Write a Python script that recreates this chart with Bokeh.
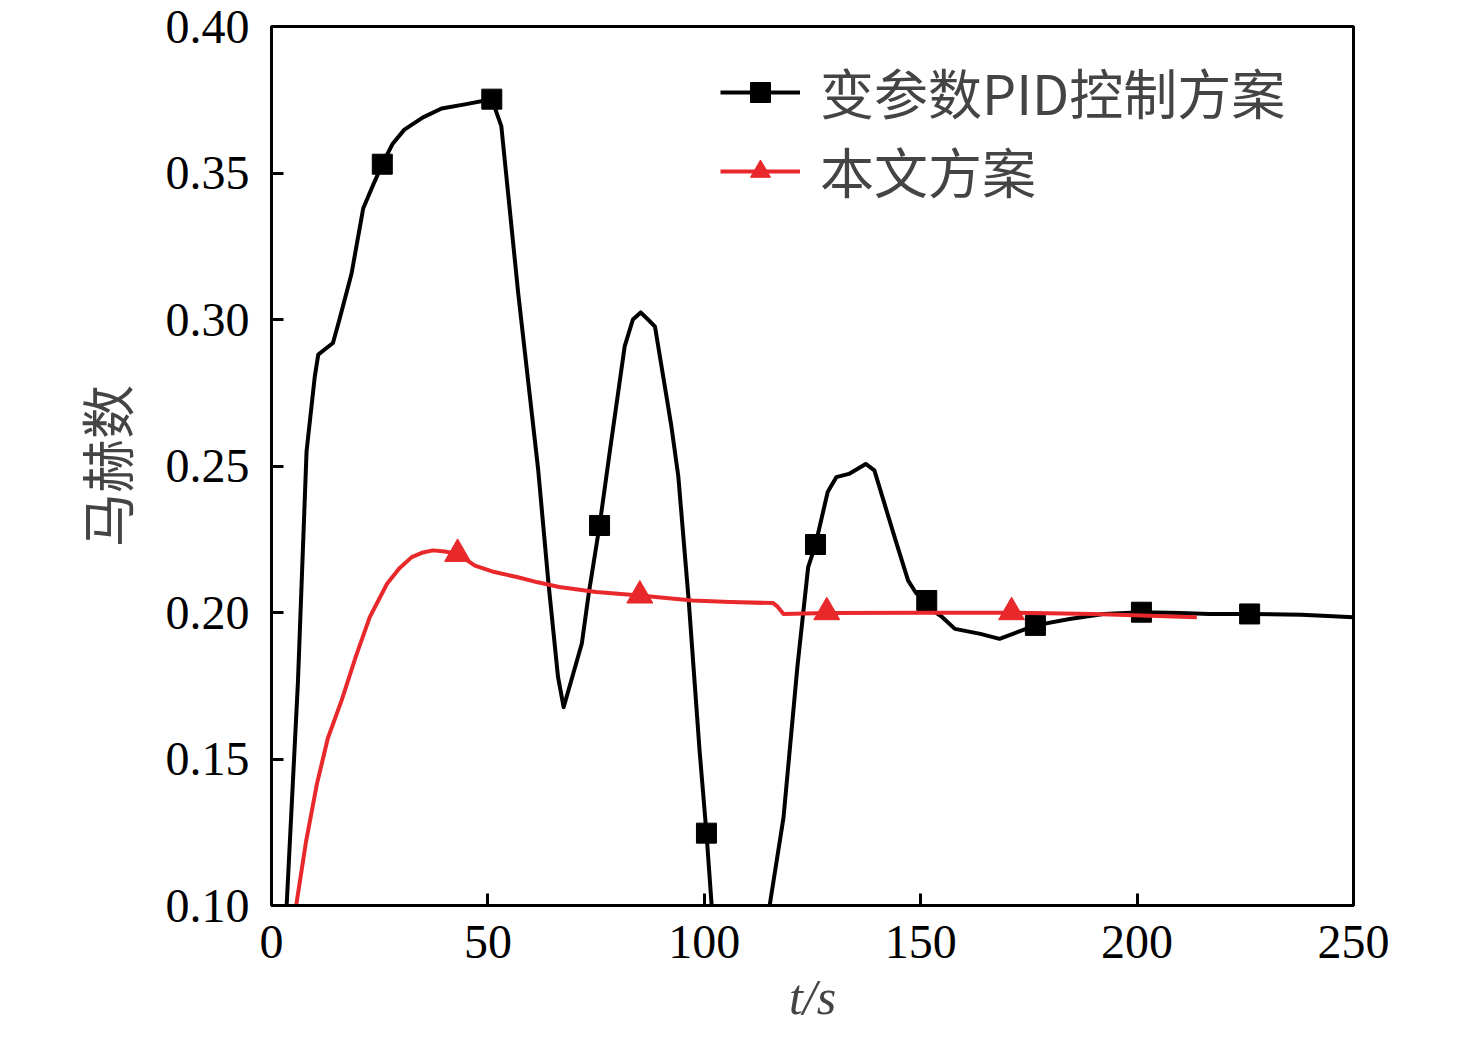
from bokeh.plotting import figure
from bokeh.models import FixedTicker, Legend, LegendItem, NumeralTickFormatter, Range1d
from bokeh.embed import file_html
from bokeh.resources import INLINE

# 变参数PID控制方案 (black curve)
pid_t = [3.0, 3.5, 6.1, 8.1, 10.0, 10.8, 12.5, 14.2, 15.7, 18.5, 21.2, 23.5, 25.6, 28.0,
         30.7, 35.0, 39.3, 45.0, 50.9, 53.1, 57.0, 61.6, 64.0, 66.2, 67.5, 69.5, 71.7,
         73.3, 75.8, 78.2, 81.6, 83.5, 85.3, 87.0, 88.6, 92.4, 94.0, 96.4, 98.9, 100.5,
         101.7, 103.0, 113.0, 115.1, 118.3, 121.5, 124.0, 125.7, 128.5, 130.5, 133.4,
         137.3, 139.3, 144.2, 147.1, 149.0, 151.4, 153.0, 155.0, 157.9, 163.8, 168.2,
         171.6, 176.5, 184.4, 192.2, 201.0, 210.0, 216.7, 226.0, 238.0, 250.0]
pid_m = [0.085, 0.100, 0.176, 0.255, 0.2805, 0.288, 0.290, 0.292, 0.300, 0.3157, 0.338, 0.346, 0.353, 0.360,
         0.3648, 0.369, 0.372, 0.3735, 0.3752, 0.366, 0.309, 0.249, 0.2099, 0.178, 0.1677, 0.178, 0.1894,
         0.2065, 0.2297, 0.2553, 0.2908, 0.300, 0.3024, 0.300, 0.2976, 0.2635, 0.2464, 0.204, 0.153, 0.1247,
         0.100, 0.070, 0.070, 0.100, 0.130, 0.1813, 0.2155, 0.2232, 0.2411, 0.2462, 0.2473,
         0.2507, 0.2485, 0.2246, 0.2109, 0.2065, 0.2041, 0.2005, 0.1984, 0.1944, 0.1927, 0.191,
         0.1929, 0.1956, 0.1978, 0.1995, 0.2001, 0.1998, 0.1995, 0.1995, 0.1992, 0.1984]
pid_mark_t = [25.6, 50.9, 75.8, 100.5, 125.7, 151.4, 176.5, 201.0, 226.0]
pid_mark_m = [0.353, 0.3752, 0.2297, 0.1247, 0.2232, 0.2041, 0.1956, 0.2001, 0.1995]

# 本文方案 (red curve)
our_t = [5.0, 5.7, 8.0, 10.5, 13.0, 16.2, 19.5, 22.7, 26.7, 29.5, 32.4, 35.0, 37.3, 40.0,
         43.0, 47.0, 51.5, 56.7, 61.5, 66.5, 75.0, 85.1, 97.3, 106.0, 115.9, 116.8, 118.3,
         128.3, 150.0, 171.0, 190.0, 213.8]
our_m = [0.090, 0.100, 0.122, 0.1415, 0.157, 0.170, 0.185, 0.1984, 0.2098, 0.215, 0.2189, 0.2205, 0.2212, 0.2208,
         0.220, 0.216, 0.2138, 0.2121, 0.2103, 0.2087, 0.207, 0.2058, 0.2041, 0.2036, 0.2032, 0.2022, 0.1995,
         0.1998, 0.1999, 0.1999, 0.1995, 0.1984]
our_mark_t = [43.0, 85.1, 128.3, 171.0]
our_mark_m = [0.220, 0.2058, 0.2001, 0.2001]

x_ticks = [0, 50, 100, 150, 200, 250]
y_ticks = [0.10, 0.15, 0.20, 0.25, 0.30, 0.35, 0.40]

black = "#000000"
red = "#e8282b"

p = figure(frame_width=1082, frame_height=879,
           x_range=Range1d(0, 250), y_range=Range1d(0.10, 0.40),
           min_border_left=271, min_border_right=115, min_border_top=26, min_border_bottom=133,
           output_backend="svg", toolbar_location=None)
p.background_fill_color = "white"
p.border_fill_color = "white"
p.grid.visible = False
p.outline_line_color = black
p.outline_line_width = 3
p.outline_line_alpha = 1

l1 = p.line(pid_t, pid_m, line_color=black, line_width=4, line_join="round")
s1 = p.scatter(pid_mark_t, pid_mark_m, marker="square", size=20, fill_color=black, line_color=black)
l2 = p.line(our_t, our_m, line_color=red, line_width=4, line_join="round")
s2 = p.scatter(our_mark_t, our_mark_m, marker="triangle", size=26, fill_color=red, line_color=red)

for ax in (p.xaxis[0], p.yaxis[0]):
	ax.axis_line_width = 3
	ax.major_tick_line_width = 3
	ax.major_tick_in = 12
	ax.major_tick_out = 0
	ax.minor_tick_in = 0
	ax.minor_tick_out = 0
	ax.major_label_text_font = "Liberation Serif"
	ax.major_label_text_font_size = "48px"
	ax.major_label_text_color = black

p.xaxis.ticker = FixedTicker(ticks=x_ticks, minor_ticks=[])
p.yaxis.ticker = FixedTicker(ticks=y_ticks, minor_ticks=[])
p.yaxis.formatter = NumeralTickFormatter(format="0.00")
p.xaxis.major_label_standoff = 20
p.yaxis.major_label_standoff = 22

p.yaxis.axis_label = "马赫数"
p.yaxis.axis_label_text_font = "Noto Sans CJK SC"
p.yaxis.axis_label_text_font_size = "54px"
p.yaxis.axis_label_text_font_style = "normal"
p.yaxis.axis_label_standoff = 18

p.xaxis.axis_label = "t/s"
p.xaxis.axis_label_text_font = "Liberation Serif"
p.xaxis.axis_label_text_font_size = "50px"
p.xaxis.axis_label_text_font_style = "italic"
p.xaxis.axis_label_standoff = 8

legend = Legend(items=[LegendItem(label="变参数PID控制方案", renderers=[l1, s1]),
                       LegendItem(label="本文方案", renderers=[l2, s2])],
                location=(449, 695))
legend.label_text_font = "Noto Sans CJK SC"
legend.label_text_font_size = "54px"
legend.glyph_width = 80
legend.glyph_height = 50
legend.label_height = 70
legend.label_standoff = 20
legend.spacing = 0
legend.padding = 0
legend.margin = 0
legend.border_line_alpha = 0
legend.background_fill_alpha = 0
p.add_layout(legend)

open("out.html", "w").write(file_html(p, INLINE))
